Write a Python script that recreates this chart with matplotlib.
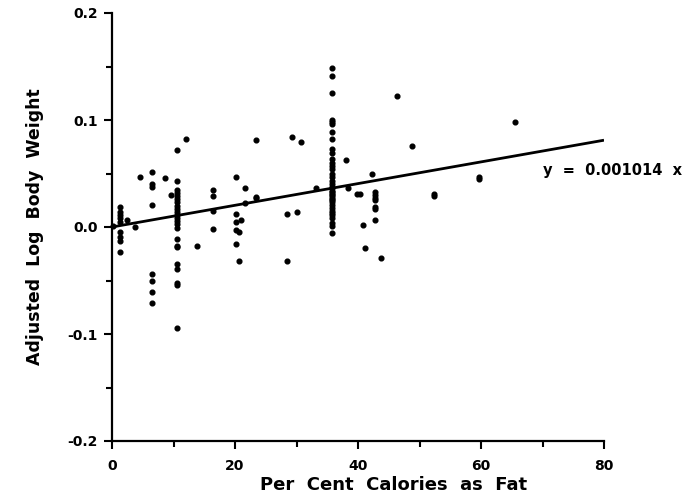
import matplotlib
matplotlib.use('Agg')
import matplotlib.pyplot as plt
import numpy as np

plt.rcParams['font.family'] = ['DejaVu Sans']
plt.rcParams['font.weight'] = 'bold'

# per cent calories as fat, adjusted log body weight
col_36 = [0.149, 0.141, 0.125, 0.100, 0.098, 0.096, 0.089, 0.082, 0.073, 0.069,
          0.064, 0.060, 0.057, 0.054, 0.050, 0.047, 0.043, 0.040, 0.037, 0.036,
          0.034, 0.033, 0.031, 0.030, 0.028, 0.026, 0.025, 0.023, 0.021, 0.018,
          0.015, 0.013, 0.011, 0.008, 0.004, 0.001, -0.006]
col_10 = [0.0715, 0.043, 0.035, 0.032, 0.029, 0.026, 0.023, 0.020, 0.017, 0.014,
          0.011, 0.008, 0.006, 0.003, -0.001, -0.011, -0.018, -0.019, -0.035,
          -0.039, -0.052, -0.054, -0.094]
col_6 = [0.051, 0.040, 0.037, 0.021, -0.044, -0.050, -0.061, -0.071]
col_1 = [0.0185, 0.014, 0.011, 0.008, 0.005, -0.005, -0.0095, -0.013, -0.023]
col_43 = [0.033, 0.030, 0.027, 0.025, 0.0185, 0.017, 0.007]

other_x = [0.2, 2.4, 3.7, 4.5, 8.6, 9.6, 12.1, 13.8, 16.5, 16.5, 16.5, 16.5,
           20.1, 20.1, 20.1, 20.1, 20.1, 21.0, 20.7, 21.7, 21.7, 20.7, 23.4,
           23.4, 23.4, 28.4, 28.4, 29.2, 30.8, 30.1, 33.1, 38.0, 38.4, 39.9,
           40.4, 40.8, 41.1, 42.2, 43.8, 46.3, 48.8, 52.4, 52.4, 59.7, 59.7, 65.5]
other_y = [0.001, 0.007, 0.0, 0.047, 0.046, 0.030, 0.082, -0.018, 0.035, 0.029,
           0.015, -0.002, 0.047, 0.012, 0.0045, -0.003, -0.016, 0.007, -0.005,
           0.036, 0.022, -0.032, 0.081, 0.0285, 0.027, 0.012, -0.032, 0.084,
           0.079, 0.014, 0.036, 0.063, 0.036, 0.031, 0.031, 0.002, -0.020, 0.050,
           -0.029, 0.122, 0.076, 0.031, 0.029, 0.0465, 0.045, 0.098]

slope = 0.001014

fat = np.concatenate([np.full(len(col_36), 35.8), np.full(len(col_10), 10.6),
                      np.full(len(col_6), 6.45), np.full(len(col_1), 1.3),
                      np.full(len(col_43), 42.8), other_x])
wt = np.concatenate([col_36, col_10, col_6, col_1, col_43, other_y])

fig = plt.figure(figsize=(6.93, 5.0), dpi=100)
ax = fig.add_axes([112 / 693, 59 / 500, 492 / 693, 428 / 500])

ax.plot(fat, wt, 'o', color='black', markersize=3.4, clip_on=False)
xl = np.array([0, 80])
ax.plot(xl, slope * xl, color='black', linewidth=2.0, solid_capstyle='butt')

ax.set_xlim(0, 80)
ax.set_ylim(-0.2, 0.2)
ax.set_xticks([0, 20, 40, 60, 80])
ax.set_xticks([10, 30, 50, 70], minor=True)
ax.set_yticks([-0.2, -0.1, 0.0, 0.1, 0.2])
ax.set_yticklabels(['-0.2', '-0.1', '0.0', '0.1', '0.2'])
ax.set_yticks([-0.15, -0.05, 0.05, 0.15], minor=True)
for s in ['top', 'right']:
    ax.spines[s].set_visible(False)
for s in ['left', 'bottom']:
    ax.spines[s].set_linewidth(1.6)
ax.tick_params(which='major', length=6, width=1.5, labelsize=10)
ax.tick_params(which='minor', length=4, width=1.5)
ax.tick_params(axis='x', pad=7)
ax.tick_params(axis='y', pad=4)

fig.text(394 / 693, 0.03, 'Per  Cent  Calories  as  Fat', ha='center', va='center',
         fontsize=13, fontweight='bold')
fig.text(35 / 693, 0.547, 'Adjusted  Log  Body  Weight', ha='center', va='center',
         rotation=90, fontsize=12.5, fontweight='bold')
ax.text(70.1, 0.053, 'y  =  0.001014  x', ha='left', va='center',
        fontsize=10.5, fontweight='bold', clip_on=False)

fig.savefig('out.png', dpi=100)
